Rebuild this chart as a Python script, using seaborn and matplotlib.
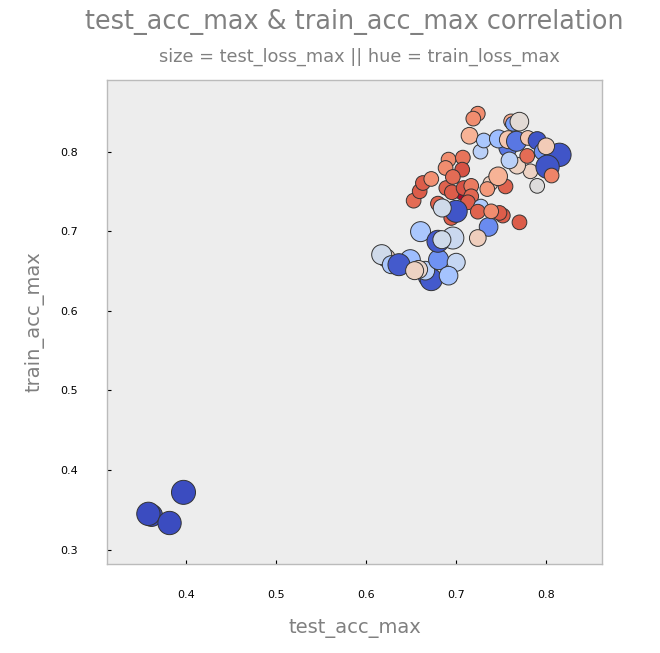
import matplotlib
matplotlib.use("Agg")
import matplotlib.pyplot as plt
import seaborn as sns
import pandas as pd

# test_acc_max values
test_acc_max = [
    0.3615, 0.358, 0.3815, 0.397,
    0.6223, 0.6172, 0.6279, 0.649, 0.669, 0.6723, 0.6364, 0.6657, 0.6582, 0.6538,
    0.6804, 0.700, 0.6915, 0.6604, 0.6963, 0.6797, 0.6841,
    0.6527, 0.6594, 0.663, 0.6723, 0.6915, 0.6882, 0.7074, 0.7067, 0.689, 0.6963,
    0.7074, 0.6952, 0.7082, 0.7167, 0.7167, 0.713, 0.6945, 0.6797, 0.700, 0.6845,
    0.7275, 0.724, 0.736, 0.724, 0.7518, 0.7481, 0.7389, 0.7703,
    0.738, 0.7345, 0.7548, 0.7466, 0.724, 0.719, 0.7148, 0.727, 0.7307, 0.761,
    0.763, 0.7702, 0.7575, 0.747, 0.758, 0.767, 0.7796, 0.790, 0.796, 0.8147,
    0.800, 0.790, 0.7825, 0.7677, 0.7592, 0.7789, 0.8015, 0.806,
]
# train_acc_max values
train_acc_max = [
    0.343, 0.345, 0.3335, 0.372,
    0.6664, 0.6706, 0.658, 0.6643, 0.643, 0.6392, 0.658, 0.6505, 0.652, 0.6505,
    0.6643, 0.661, 0.6442, 0.6995, 0.6915, 0.6874, 0.6894,
    0.7384, 0.7502, 0.7606, 0.7657, 0.790, 0.7795, 0.7925, 0.7774, 0.7543, 0.7682,
    0.748, 0.749, 0.7543, 0.757, 0.7439, 0.7364, 0.7167, 0.7347, 0.725, 0.7292,
    0.731, 0.7246, 0.7054, 0.6915, 0.7197, 0.723, 0.725, 0.7112,
    0.760, 0.753, 0.7563, 0.769, 0.8477, 0.8415, 0.820, 0.800, 0.814, 0.838,
    0.835, 0.8377, 0.8047, 0.816, 0.815, 0.813, 0.8172, 0.8138, 0.800, 0.796,
    0.8067, 0.757, 0.7753, 0.7824, 0.789, 0.7946, 0.781, 0.770,
]
# train_loss_max (hue)
train_loss_max = [
    1.80, 1.80, 1.80, 1.80,
    1.10, 1.26, 1.40, 1.44, 1.74, 1.76, 1.76, 1.34, 1.14, 1.12,
    1.60, 1.30, 1.42, 1.40, 1.28, 1.76, 1.26,
    0.78, 0.744, 0.744, 0.876, 0.864, 0.864, 0.80, 0.72, 0.756, 0.78,
    0.60, 0.744, 0.72, 0.816, 0.768, 0.744, 0.744, 0.756, 1.776, 1.26,
    1.38, 0.756, 1.62, 1.10, 0.744, 0.744, 0.864, 0.744,
    1.10, 0.90, 0.756, 0.984, 0.864, 0.864, 0.984, 1.344, 1.40, 0.96,
    1.56, 1.176, 1.68, 1.44, 1.056, 1.68, 1.056, 1.776, 1.60, 1.776,
    1.08, 1.20, 1.116, 1.116, 1.344, 0.78, 1.776, 0.84,
]
# test_loss_max (size)
test_loss_max = [
    2.48, 2.81, 2.81, 2.99,
    1.61, 2.02, 1.61, 2.02, 2.02, 2.48, 2.48, 1.74, 1.61, 1.61,
    2.02, 1.61, 1.74, 2.02, 2.48, 2.48, 1.61,
    1.02, 1.02, 1.02, 1.02, 1.02, 1.02, 1.02, 1.02, 1.02, 1.02,
    1.02, 1.02, 1.02, 1.02, 1.02, 1.02, 1.02, 1.02, 2.48, 1.61,
    1.02, 1.02, 1.74, 1.36, 1.02, 1.02, 1.02, 1.02,
    1.02, 1.02, 1.02, 1.74, 1.02, 1.02, 1.36, 1.02, 1.02, 1.02,
    1.02, 1.74, 1.61, 1.61, 1.61, 2.02, 1.02, 1.61, 1.36, 2.81,
    1.36, 1.02, 1.02, 1.36, 1.36, 1.02, 2.81, 1.02,
]

df = pd.DataFrame({
    "test_acc_max": test_acc_max,
    "train_acc_max": train_acc_max,
    "train_loss_max": train_loss_max,
    "test_loss_max": test_loss_max,
})

fig = plt.figure(figsize=(6.6, 6.53), dpi=100)
ax = fig.add_axes([107/660, 1 - 564/653, 495/660, 484/653])
ax.set_facecolor("#ededed")

sns.scatterplot(
    data=df, x="test_acc_max", y="train_acc_max",
    hue="train_loss_max", size="test_loss_max",
    palette="coolwarm_r", hue_norm=(0.6, 1.8),
    sizes=(110, 300), size_norm=(1.0, 3.0),
    edgecolor="#333333", linewidth=0.7, alpha=1.0,
    legend=False, ax=ax,
)

ax.set_xlim(0.312, 0.862)
ax.set_ylim(0.282, 0.890)
ax.set_xticks([0.4, 0.5, 0.6, 0.7, 0.8])
ax.set_yticks([0.3, 0.4, 0.5, 0.6, 0.7, 0.8])
ax.tick_params(axis="both", direction="in", length=3, width=0.8,
               labelsize=8, colors="black")
ax.tick_params(axis="x", pad=19)
ax.tick_params(axis="y", pad=21)
for sp in ax.spines.values():
    sp.set_color("#bbbbbb")
    sp.set_linewidth(1.0)

ax.set_xlabel("test_acc_max", fontsize=14, color="grey")
ax.set_ylabel("train_acc_max", fontsize=14, color="grey")
ax.xaxis.set_label_coords(0.5, -0.114)
ax.yaxis.set_label_coords(-0.126, 0.5)

cx = (107 + 602) / 2 / 660
fig.text(cx, 1 - 22/653, "test_acc_max & train_acc_max correlation",
         ha="center", va="center", fontsize=18.4, color="grey")
fig.text(359.5 / 660, 1 - 57/653, "size = test_loss_max || hue = train_loss_max",
         ha="center", va="center", fontsize=12.8, color="grey")

fig.savefig("out.png", dpi=100)
